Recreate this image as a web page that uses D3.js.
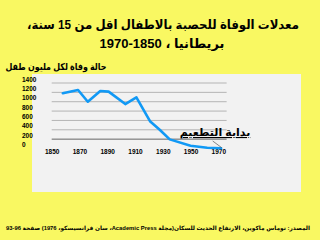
<!DOCTYPE html>
<html>
<head>
<meta charset="utf-8">
<script src="https://d3js.org/d3.v7.min.js"></script>
<style>
  body { margin: 0; background: #f9f862; }
  text { font-family: "Liberation Sans", "DejaVu Sans", sans-serif; font-weight: bold; }
</style>
</head>
<body>
<svg width="320" height="240"></svg>
<script>
// data
const years = [1858, 1869, 1876, 1885, 1891, 1903, 1911, 1921, 1928, 1935, 1950, 1962, 1972];
const deaths = [1180, 1250, 1000, 1230, 1215, 950, 1095, 575, 395, 195, 60, 17, 4];
const yearTicks = [1850, 1870, 1890, 1910, 1930, 1950, 1970];
const rateTicks = [0, 200, 400, 600, 800, 1000, 1200, 1400];
const gridValues = [200, 400, 600, 800, 1000, 1200, 1400];

const title1 = "معدلات الوفاة للحصبة بالاطفال اقل من 15 سنة،";
const title2 = "بريطانيا ، 1850-1970";
const yTitle = "حالة وفاة لكل مليون طفل";
const note = "بداية التطعيم";
const source = "المصدر: توماس ماكوين، الارتفاع الحديث للسكان(مجلة  Academic Press، سان فرانسيسكو، 1976) صفحة 96-93";

const svg = d3.select("svg");

// background
svg.append("rect").attr("width", 320).attr("height", 240).attr("fill", "#f9f862");

// titles
svg.append("text").attr("x", 163).attr("y", 29)
   .attr("text-anchor", "middle").attr("direction", "rtl")
   .attr("textLength", 272).attr("lengthAdjust", "spacingAndGlyphs")
   .style("font-size", "12.5px").text(title1);
svg.append("text").attr("x", 162).attr("y", 48)
   .attr("text-anchor", "middle").attr("direction", "rtl")
   .style("font-size", "13px").text(title2);
svg.append("text").attr("x", 56).attr("y", 70)
   .attr("text-anchor", "middle").attr("direction", "rtl")
   .attr("textLength", 101).attr("lengthAdjust", "spacingAndGlyphs")
   .style("font-size", "9.5px").text(yTitle);

// grey panel
svg.append("rect").attr("x", 32).attr("y", 74).attr("width", 269).attr("height", 118)
   .attr("fill", "#f2f2f2");

// scales
const x = d3.scaleLinear().domain([1850, 1970]).range([51.7, 218.3]);
const y = d3.scaleLinear().domain([0, 1400]).range([148.5, 83]);

// gridlines
svg.append("g").selectAll("line")
   .data(gridValues)
   .join("line")
   .attr("x1", x(1850)).attr("x2", x(1976))
   .attr("y1", d => y(d)).attr("y2", d => y(d))
   .attr("stroke", d => d === 200 ? "#666" : "#b4b4b4")
   .attr("stroke-width", 1);

// y axis labels
const yAxis = svg.append("g").attr("transform", "translate(22,-4)")
   .call(d3.axisRight(y).tickValues(rateTicks).tickFormat(d3.format("d")).tickSize(0).tickPadding(0));
yAxis.select(".domain").remove();
yAxis.selectAll("text").style("font-size", "6.5px").attr("fill", "#000");

// x axis labels
const xAxis = svg.append("g").attr("transform", "translate(0,149)")
   .call(d3.axisBottom(x).tickValues(yearTicks).tickFormat(d3.format("d")).tickSize(0).tickPadding(0));
xAxis.select(".domain").remove();
xAxis.selectAll("text").style("font-size", "6.5px").attr("fill", "#000");

// data line
const line = d3.line().x((d, i) => x(years[i])).y(d => y(d));
svg.append("path")
   .datum(deaths)
   .attr("d", line)
   .attr("fill", "none")
   .attr("stroke", "#1199f5")
   .attr("stroke-width", 2.6)
   .attr("stroke-linejoin", "round")
   .attr("stroke-linecap", "round");

// annotation
svg.append("line")
   .attr("x1", 212.7).attr("y1", 141).attr("x2", 221.7).attr("y2", 147.7)
   .attr("stroke", "#555").attr("stroke-width", 0.7);
svg.append("text").attr("x", 215).attr("y", 136)
   .attr("text-anchor", "middle").attr("direction", "rtl")
   .style("font-size", "11px").style("text-decoration", "underline")
   .text(note);

// source
svg.append("text").attr("x", 158).attr("y", 230)
   .attr("text-anchor", "middle").attr("direction", "rtl")
   .attr("textLength", 304).attr("lengthAdjust", "spacingAndGlyphs")
   .style("font-size", "5.8px").text(source);
</script>
</body>
</html>
